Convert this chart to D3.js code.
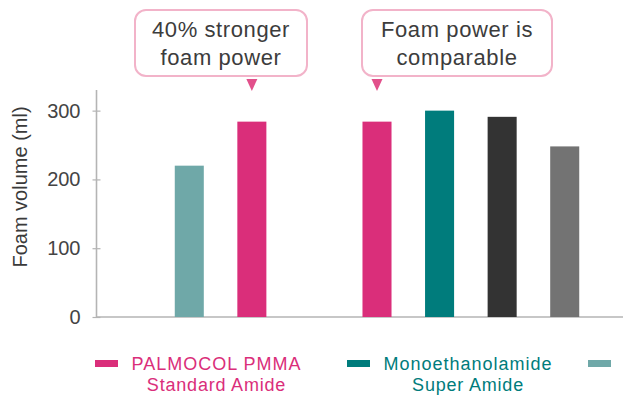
<!DOCTYPE html>
<html>
<head>
<meta charset="utf-8">
<script src="https://cdn.jsdelivr.net/npm/d3@7"></script>
<style>
  body { margin: 0; background: white; }
  text { font-family: "Liberation Sans", Arial, Helvetica, sans-serif; }
</style>
</head>
<body>
<script>
// slots along the x axis, "gap" leaves the empty space between the two groups
var slots = ["s1", "s2", "gap", "s3", "s4", "s5", "s6"];
var barSlots = ["s1", "s2", "s3", "s4", "s5", "s6"];
var barSeries = ["other1", "pmma", "pmma", "mea", "other2", "other3"];
var barValues = [220, 284, 284, 300, 291, 248];

var seriesIds = ["pmma", "mea", "other1", "other2", "other3"];
var seriesColors = ["#da2e7a", "#007c7c", "#6fa8a8", "#333333", "#737373"];
var legendLine1 = ["PALMOCOL PMMA", "Monoethanolamide", ""];
var legendLine2 = ["Standard Amide", "Super Amide", ""];

var yTicks = [0, 100, 200, 300];
var yLabel = "Foam volume (ml)";

var calloutLines = [["40% stronger", "foam power"], ["Foam power is", "comparable"]];
var calloutTarget = ["s2", "s3"];

var width = 623, height = 400;

var svg = d3.select("body").append("svg")
    .attr("width", width)
    .attr("height", height);

var x_scale = d3.scaleBand()
    .domain(slots)
    .range([158, 596])
    .paddingInner(0.536)
    .paddingOuter(0.268);

var y_scale = d3.scaleLinear()
    .domain([0, 330])
    .range([317, 90]);

var color = d3.scaleOrdinal().domain(seriesIds).range(seriesColors);

// axes
var yAxis = d3.axisLeft(y_scale).tickValues(yTicks).tickSize(4).tickPadding(12);
var gy = svg.append("g")
    .attr("transform", "translate(96.5,0)")
    .call(yAxis);
gy.select(".domain").attr("stroke", "#b4b4b4").attr("stroke-width", 1.6)
    .attr("d", "M0," + 90 + "V" + y_scale(0));
gy.selectAll(".tick line").attr("x1", -4).attr("x2", 4).attr("stroke", "#b4b4b4").attr("stroke-width", 1.2);
gy.selectAll(".tick text")
    .attr("fill", "#444")
    .style("font-size", "20px");

svg.append("line")
    .attr("x1", 96).attr("x2", width)
    .attr("y1", y_scale(0)).attr("y2", y_scale(0))
    .attr("stroke", "#b4b4b4").attr("stroke-width", 1.6);

svg.append("text")
    .attr("transform", "translate(27,187) rotate(-90)")
    .attr("text-anchor", "middle")
    .attr("fill", "#3a3a3a")
    .style("font-size", "20px")
    .text(yLabel);

// bars
var bars = barSlots.map(function(s, i) {
    return { slot: s, value: barValues[i], series: barSeries[i] };
});
svg.selectAll("rect.bar").data(bars).enter().append("rect")
    .attr("class", "bar")
    .attr("x", function(d) { return x_scale(d.slot); })
    .attr("width", x_scale.bandwidth())
    .attr("y", function(d) { return y_scale(d.value); })
    .attr("height", function(d) { return y_scale(0) - y_scale(d.value); })
    .attr("fill", function(d) { return color(d.series); });

// callouts
var boxes = [[135, 307], [362, 552]];
calloutLines.forEach(function(lines, i) {
    var g = svg.append("g");
    var bx = boxes[i][0], bw = boxes[i][1] - boxes[i][0];
    g.append("rect")
        .attr("x", bx).attr("y", 10)
        .attr("width", bw).attr("height", 66)
        .attr("rx", 11)
        .attr("fill", "white")
        .attr("stroke", "#f2b3c9")
        .attr("stroke-width", 2);
    lines.forEach(function(t, j) {
        g.append("text")
            .attr("x", bx + bw / 2)
            .attr("y", 37 + j * 28)
            .attr("text-anchor", "middle")
            .attr("fill", "#3c3c3c")
            .style("font-size", "22px")
            .style("letter-spacing", "0.6px")
            .text(t);
    });
    var px = x_scale(calloutTarget[i]) + x_scale.bandwidth() / 2;
    g.append("path")
        .attr("d", "M" + (px - 5.5) + ",79L" + (px + 5.5) + ",79L" + px + ",91Z")
        .attr("fill", "#e2508b");
});

// legend (swatch x positions as in the original layout)
var legendX = [95, 347, 588];
legendLine1.forEach(function(t, i) {
    var c = color(seriesIds[i]);
    var lx = legendX[i];
    svg.append("rect")
        .attr("x", lx).attr("y", 360)
        .attr("width", 23).attr("height", 7)
        .attr("fill", c);
    var tx = lx + 36.5;
    var t1 = svg.append("text").attr("x", tx).attr("y", 370)
        .attr("fill", c).style("font-size", "18px")
        .style("letter-spacing", "1px").text(t);
    var w = t1.node().getComputedTextLength();
    t1.attr("x", tx + w / 2).attr("text-anchor", "middle");
    svg.append("text").attr("x", tx + w / 2).attr("y", 391)
        .attr("text-anchor", "middle")
        .attr("fill", c).style("font-size", "18px")
        .style("letter-spacing", "0.8px").text(legendLine2[i]);
});
</script>
</body>
</html>
